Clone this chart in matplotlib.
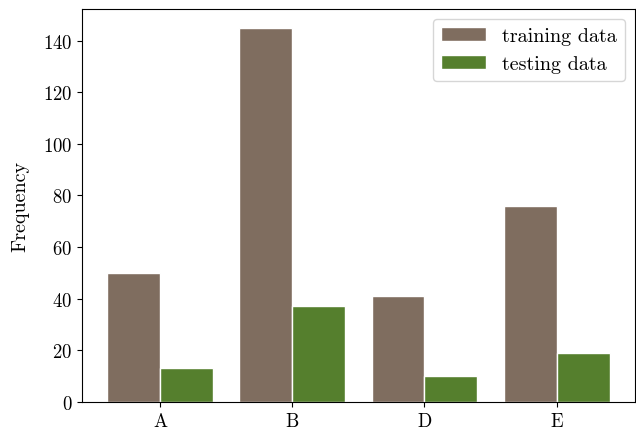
import numpy as np
import matplotlib
matplotlib.use('Agg')
import matplotlib.pyplot as plt

plt.rcParams['font.family'] = 'serif'
plt.rcParams['font.serif'] = ['cmr10', 'DejaVu Serif']
plt.rcParams['mathtext.fontset'] = 'cm'
plt.rcParams['axes.formatter.use_mathtext'] = True
plt.rcParams['font.size'] = 13.5

categories = ['A', 'B', 'D', 'E']
training = [50, 145, 41, 76]
testing = [13, 37, 10, 19]

x = np.arange(len(categories))
width = 0.4

fig, ax = plt.subplots(figsize=(6.36, 4.31), dpi=100)
fig.subplots_adjust(left=0.129, right=0.998, bottom=0.065, top=0.977)

ax.bar(x - width / 2, training, width, color='#7f6d5f', edgecolor='white', label='training data')
ax.bar(x + width / 2, testing, width, color='#557f2d', edgecolor='white', label='testing data')

ax.set_xticks(x)
ax.set_xticklabels(categories)
ax.set_ylabel('Frequency', fontsize=14.5, labelpad=10)
ax.legend(loc='upper right', fontsize=14.5, handlelength=2.2)

fig.savefig('out.png')
